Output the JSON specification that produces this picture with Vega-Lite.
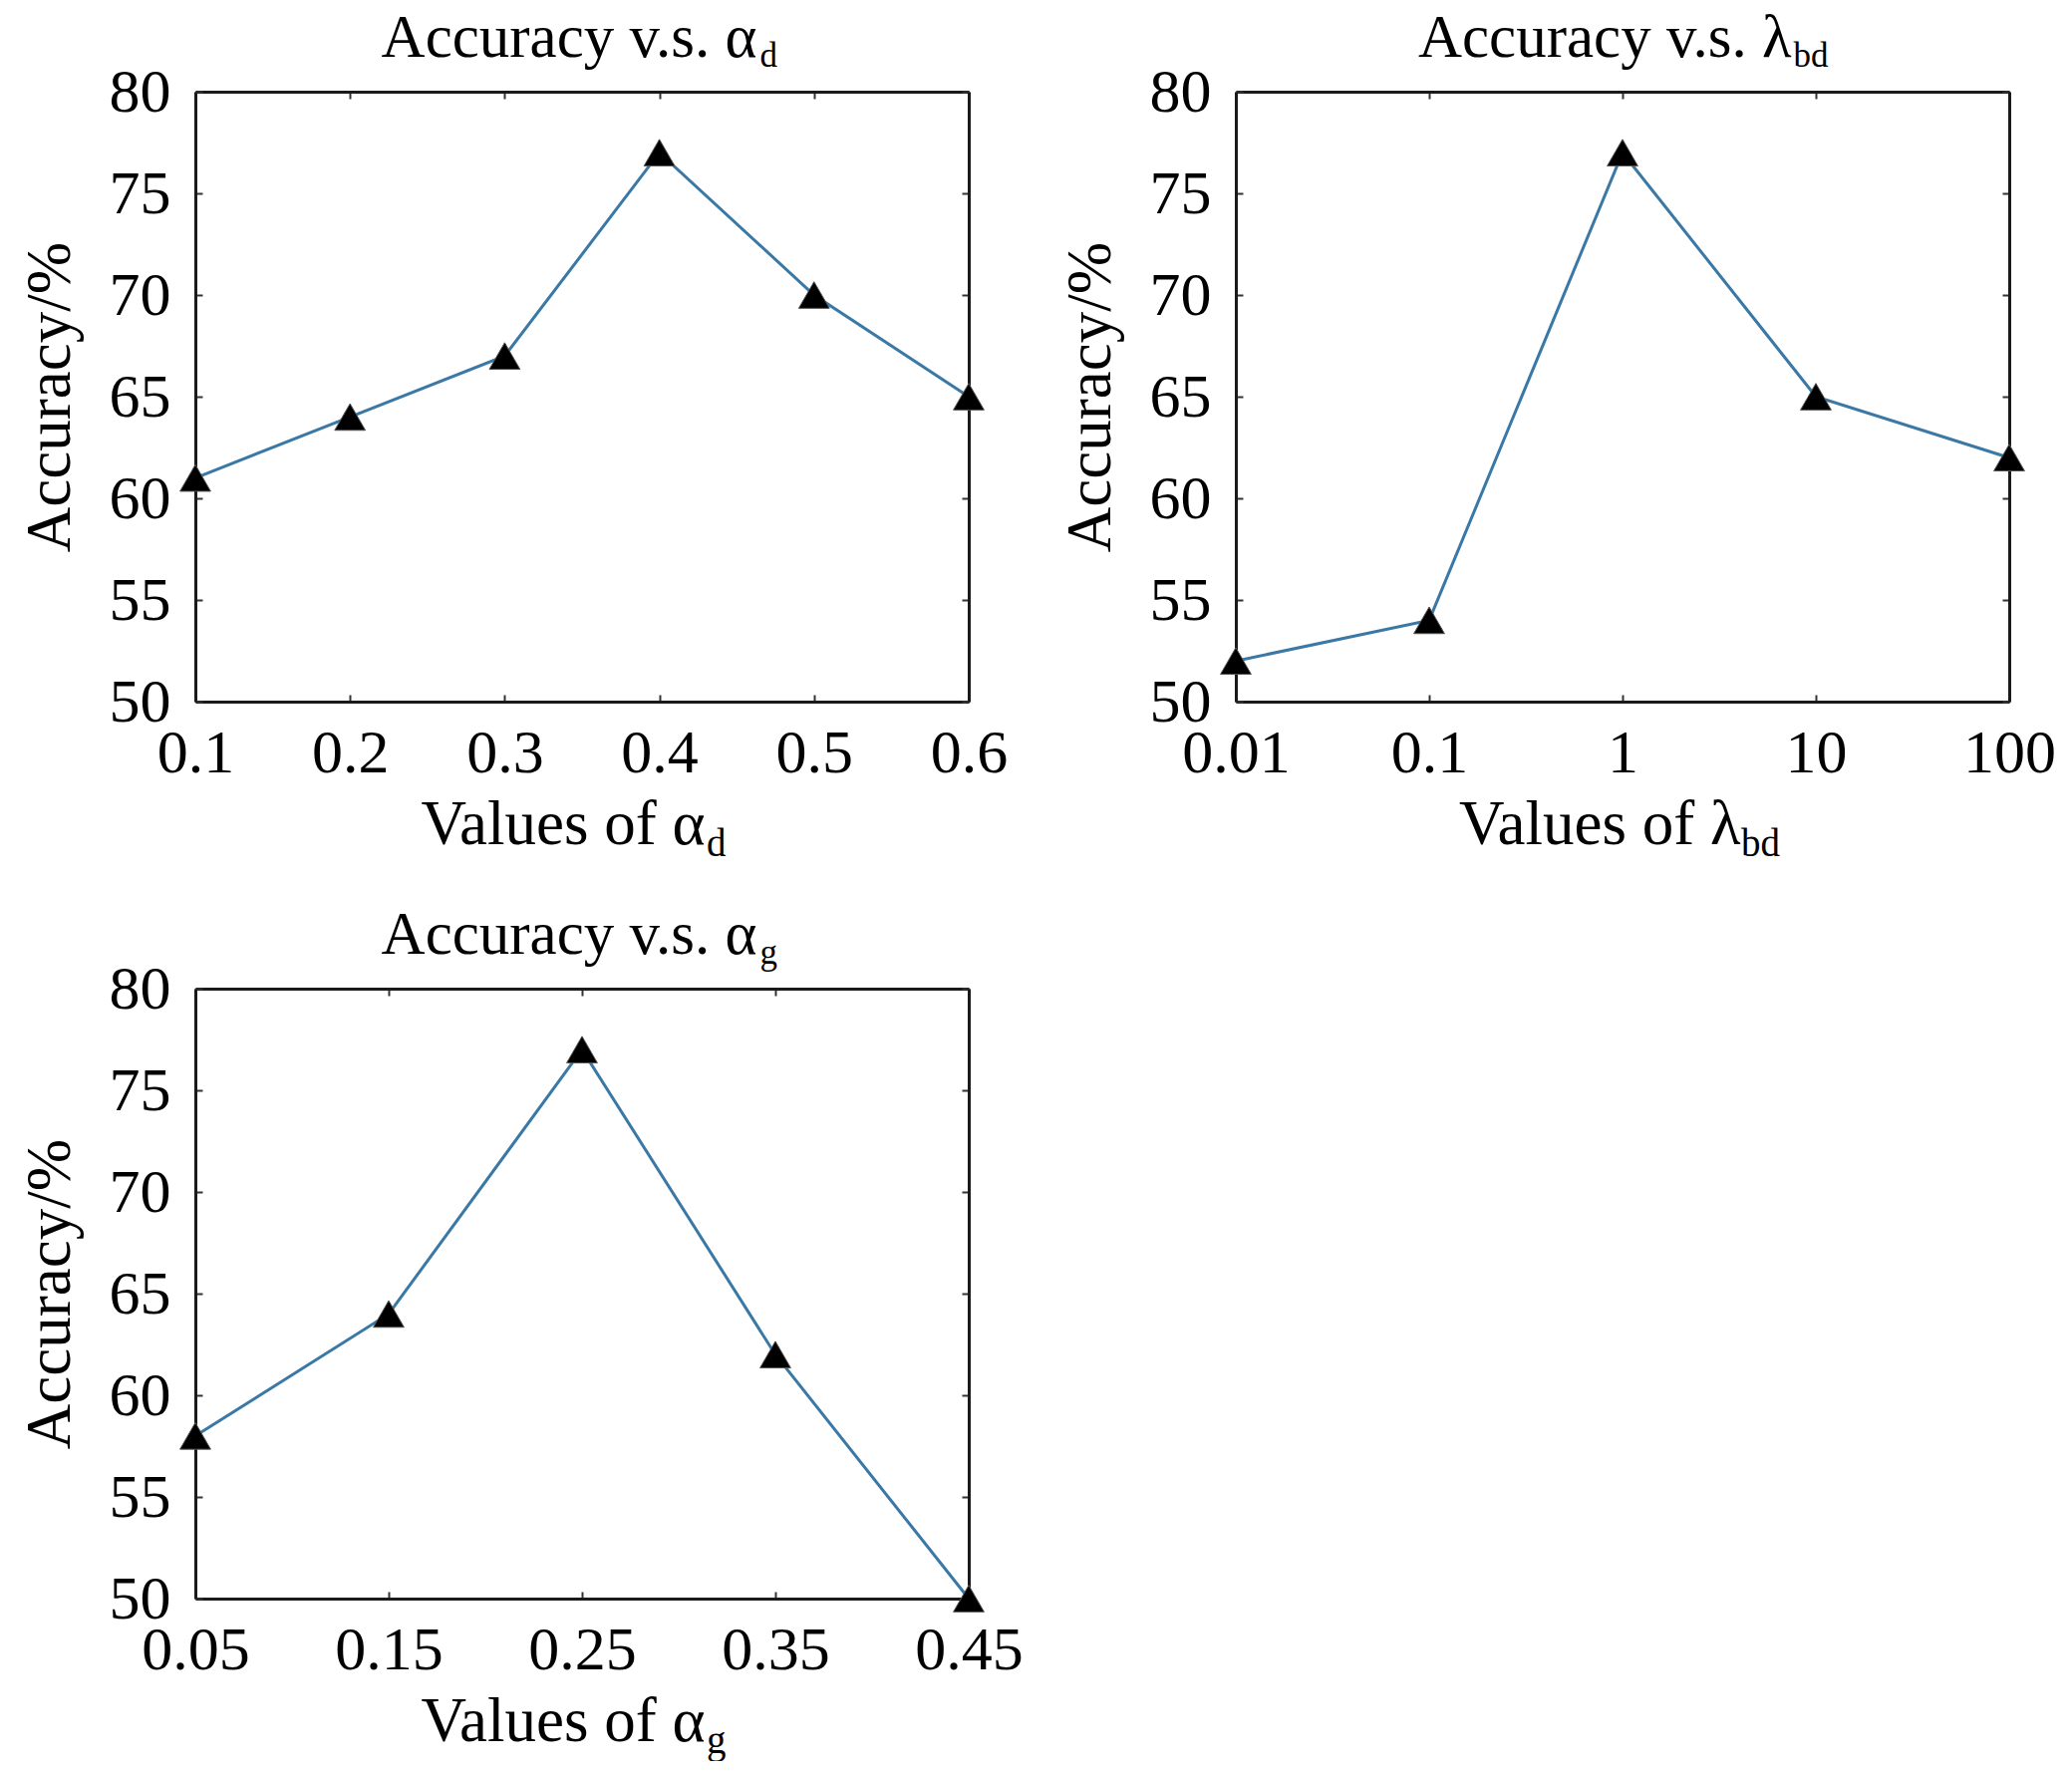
{
  "$schema": "https://vega.github.io/schema/vega-lite/v6.json",
  "padding": {"left": 19, "top": 7, "right": 0, "bottom": 0},
  "background": "#ffffff",
  "datasets": {
    "ad": [
      {"v": 0.1, "acc": 61}, {"v": 0.2, "acc": 64}, {"v": 0.3, "acc": 67},
      {"v": 0.4, "acc": 77}, {"v": 0.5, "acc": 70}, {"v": 0.6, "acc": 65}
    ],
    "lbd": [
      {"v": 0.01, "acc": 52}, {"v": 0.1, "acc": 54}, {"v": 1, "acc": 77},
      {"v": 10, "acc": 65}, {"v": 100, "acc": 62}
    ],
    "ag": [
      {"v": 0.05, "acc": 58}, {"v": 0.15, "acc": 64}, {"v": 0.25, "acc": 77},
      {"v": 0.35, "acc": 62}, {"v": 0.45, "acc": 50}
    ]
  },
  "columns": 2,
  "bounds": "flush",
  "spacing": {"row": 288, "column": 268},
  "concat": [
    {
      "width": 776, "height": 612,
      "data": {"name": "ad"},
      "title": {"text": "d", "orient": "bottom", "anchor": "start", "frame": "group", "dx": 513, "offset": 0, "baseline": "alphabetic", "fontSize": 39},
      "layer": [
        {
          "mark": {"type": "line", "color": "#3a78a6", "strokeWidth": 3},
          "encoding": {
            "x": {"field": "v", "type": "quantitative", "scale": {"domain": [0.1, 0.6], "nice": false, "zero": false},
                  "axis": {"orient": "bottom", "values": [0.1, 0.2, 0.3, 0.4, 0.5, 0.6], "format": ".1f", "labelPadding": 28,
                           "title": "Values of α", "titleX": 511, "titleY": 142, "titleAlign": "right", "titleBaseline": "alphabetic", "titleAngle": 0}},
            "y": {"field": "acc", "type": "quantitative", "scale": {"domain": [50, 80], "nice": false, "zero": false},
                  "axis": {"orient": "left", "values": [50, 55, 60, 65, 70, 75, 80], "format": "d", "labelPadding": 32,
                           "title": "Accuracy/%", "titleX": -127, "titleY": 306, "titleAlign": "center", "titleBaseline": "alphabetic", "titleAngle": 270}}
          }
        },
        {
          "mark": {"type": "point", "shape": "triangle-up", "filled": true, "color": "#000000", "stroke": "#555555", "strokeWidth": 1, "size": 950, "opacity": 1},
          "encoding": {
            "x": {"field": "v", "type": "quantitative", "scale": {"domain": [0.1, 0.6], "nice": false, "zero": false},
                  "axis": {"orient": "top", "labels": false, "values": [0.1, 0.2, 0.3, 0.4, 0.5, 0.6],
                           "title": "Accuracy v.s. α", "titleFontSize": 61, "titleX": 563, "titleY": -36, "titleAlign": "right", "titleBaseline": "alphabetic", "titleAngle": 0}},
            "y": {"field": "acc", "type": "quantitative", "scale": {"domain": [50, 80], "nice": false, "zero": false},
                  "axis": {"orient": "right", "labels": false, "values": [50, 55, 60, 65, 70, 75, 80],
                           "title": "d", "titleFontSize": 35, "titleX": -210, "titleY": -26, "titleAlign": "left", "titleBaseline": "alphabetic", "titleAngle": 0}}
          }
        }
      ],
      "resolve": {"axis": {"x": "independent", "y": "independent"}}
    },
    {
      "width": 776, "height": 612,
      "data": {"name": "lbd"},
      "title": {"text": "bd", "orient": "bottom", "anchor": "start", "frame": "group", "dx": 507, "offset": 0, "baseline": "alphabetic", "fontSize": 39},
      "layer": [
        {
          "mark": {"type": "line", "color": "#3a78a6", "strokeWidth": 3},
          "encoding": {
            "x": {"field": "v", "type": "quantitative", "scale": {"type": "log", "domain": [0.01, 100], "nice": false},
                  "axis": {"orient": "bottom", "values": [0.01, 0.1, 1, 10, 100], "format": "~g", "labelPadding": 28,
                           "title": "Values of λ", "titleX": 506, "titleY": 142, "titleAlign": "right", "titleBaseline": "alphabetic", "titleAngle": 0}},
            "y": {"field": "acc", "type": "quantitative", "scale": {"domain": [50, 80], "nice": false, "zero": false},
                  "axis": {"orient": "left", "values": [50, 55, 60, 65, 70, 75, 80], "format": "d", "labelPadding": 32,
                           "title": "Accuracy/%", "titleX": -127, "titleY": 306, "titleAlign": "center", "titleBaseline": "alphabetic", "titleAngle": 270}}
          }
        },
        {
          "mark": {"type": "point", "shape": "triangle-up", "filled": true, "color": "#000000", "stroke": "#555555", "strokeWidth": 1, "size": 950, "opacity": 1},
          "encoding": {
            "x": {"field": "v", "type": "quantitative", "scale": {"type": "log", "domain": [0.01, 100], "nice": false},
                  "axis": {"orient": "top", "labels": false, "values": [0.01, 0.1, 1, 10, 100],
                           "title": "Accuracy v.s. λ", "titleFontSize": 61, "titleX": 557, "titleY": -36, "titleAlign": "right", "titleBaseline": "alphabetic", "titleAngle": 0}},
            "y": {"field": "acc", "type": "quantitative", "scale": {"domain": [50, 80], "nice": false, "zero": false},
                  "axis": {"orient": "right", "labels": false, "values": [50, 55, 60, 65, 70, 75, 80],
                           "title": "bd", "titleFontSize": 35, "titleX": -217, "titleY": -26, "titleAlign": "left", "titleBaseline": "alphabetic", "titleAngle": 0}}
          }
        }
      ],
      "resolve": {"axis": {"x": "independent", "y": "independent"}}
    },
    {
      "width": 776, "height": 612,
      "data": {"name": "ag"},
      "title": {"text": "g", "orient": "bottom", "anchor": "start", "frame": "group", "dx": 513, "offset": 0, "baseline": "alphabetic", "fontSize": 39},
      "layer": [
        {
          "mark": {"type": "line", "color": "#3a78a6", "strokeWidth": 3},
          "encoding": {
            "x": {"field": "v", "type": "quantitative", "scale": {"domain": [0.05, 0.45], "nice": false, "zero": false},
                  "axis": {"orient": "bottom", "values": [0.05, 0.15, 0.25, 0.35, 0.45], "format": ".2f", "labelPadding": 28,
                           "title": "Values of α", "titleX": 511, "titleY": 142, "titleAlign": "right", "titleBaseline": "alphabetic", "titleAngle": 0}},
            "y": {"field": "acc", "type": "quantitative", "scale": {"domain": [50, 80], "nice": false, "zero": false},
                  "axis": {"orient": "left", "values": [50, 55, 60, 65, 70, 75, 80], "format": "d", "labelPadding": 32,
                           "title": "Accuracy/%", "titleX": -127, "titleY": 306, "titleAlign": "center", "titleBaseline": "alphabetic", "titleAngle": 270}}
          }
        },
        {
          "mark": {"type": "point", "shape": "triangle-up", "filled": true, "color": "#000000", "stroke": "#555555", "strokeWidth": 1, "size": 950, "opacity": 1},
          "encoding": {
            "x": {"field": "v", "type": "quantitative", "scale": {"domain": [0.05, 0.45], "nice": false, "zero": false},
                  "axis": {"orient": "top", "labels": false, "values": [0.05, 0.15, 0.25, 0.35, 0.45],
                           "title": "Accuracy v.s. α", "titleFontSize": 61, "titleX": 563, "titleY": -36, "titleAlign": "right", "titleBaseline": "alphabetic", "titleAngle": 0}},
            "y": {"field": "acc", "type": "quantitative", "scale": {"domain": [50, 80], "nice": false, "zero": false},
                  "axis": {"orient": "right", "labels": false, "values": [50, 55, 60, 65, 70, 75, 80],
                           "title": "g", "titleFontSize": 35, "titleX": -210, "titleY": -26, "titleAlign": "left", "titleBaseline": "alphabetic", "titleAngle": 0}}
          }
        }
      ],
      "resolve": {"axis": {"x": "independent", "y": "independent"}}
    }
  ],
  "config": {
    "font": "Liberation Serif",
    "view": {"stroke": null},
    "axis": {
      "grid": false,
      "domainColor": "#1a1a1a", "domainWidth": 3,
      "tickColor": "#333333", "tickWidth": 2, "tickSize": -7,
      "labelFont": "Liberation Serif", "labelFontSize": 62, "labelColor": "#000000",
      "labelFlush": false, "labelOverlap": false,
      "titleFont": "Liberation Serif", "titleFontSize": 63, "titleFontWeight": "normal", "titleColor": "#000000",
      "zindex": 0
    },
    "title": {"font": "Liberation Serif", "fontWeight": "normal", "color": "#000000"}
  }
}
